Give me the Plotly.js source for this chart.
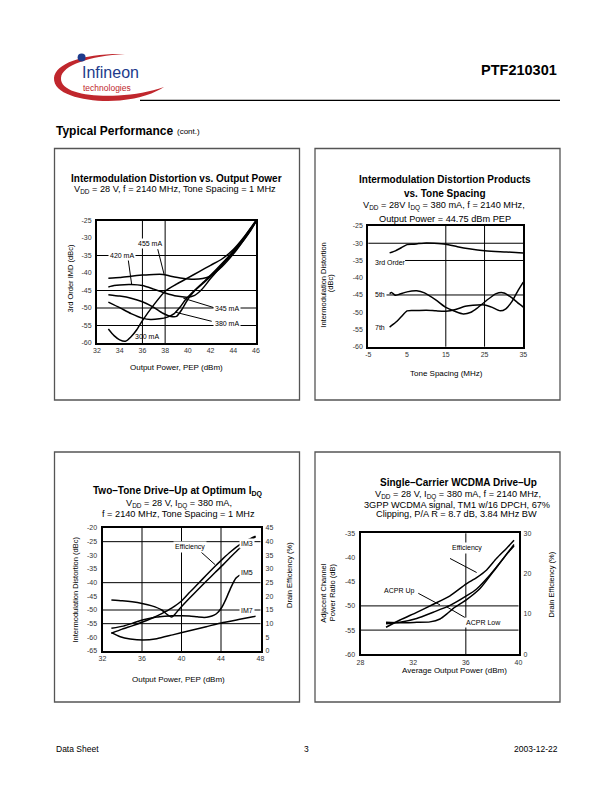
<!DOCTYPE html>
<html><head><meta charset="utf-8">
<script src="https://cdn.plot.ly/plotly-3.0.1.min.js"></script>
<style>html,body{margin:0;padding:0;background:#fff}</style>
</head><body><div id="chart" style="width:612px;height:792px"></div>
<script>
// ---------- Chart 1: IMD vs Output Power (x: dBm, y: dBc) ----------
const c1_300_x = [33, 33.5, 34, 34.5, 35, 35.5, 36, 37, 38, 39, 40, 41, 42, 43, 44, 45, 46];
const c1_300_y = [-56, -57.9, -59.1, -59.5, -58.2, -56.2, -53.6, -49.1, -45.2, -43.2, -41.4, -39.6, -37.8, -36, -33.3, -29.5, -25];
const c1_345_x = [33, 34, 35, 36, 36.7, 37.5, 38.2, 38.8, 39.3, 39.8, 40.5, 41.5, 42.5, 43.5, 44.5, 45.5, 46];
const c1_345_y = [-48.3, -49.9, -51.6, -52.9, -53.3, -53.1, -52.6, -51.6, -49.8, -47.6, -45.2, -42.2, -39, -35.6, -31.8, -27.4, -25.2];
const c1_380_x = [33, 34, 35, 36, 37, 37.8, 38.5, 39, 39.5, 40, 40.5, 41.5, 42.5, 43.5, 44.5, 45.5, 46];
const c1_380_y = [-46.2, -46.6, -47.2, -48.2, -49.8, -51.5, -52.4, -52.4, -50.3, -47.5, -45.4, -42.5, -39.4, -36, -32.3, -28, -25.3];
const c1_420_x = [33, 33.5, 34, 35, 36, 37, 38, 39, 40, 40.6, 41.2, 42, 43, 44, 45, 46];
const c1_420_y = [-44, -43.6, -43.4, -43.3, -43.6, -44.6, -45.7, -46.6, -46.9, -46.4, -44.8, -41.6, -37.8, -33.9, -29.9, -25.2];
const c1_455_x = [33, 34, 35, 36, 37, 37.8, 38.5, 39.5, 40.5, 41.3, 42, 43, 44, 45, 46];
const c1_455_y = [-41.5, -41.3, -40.9, -40.6, -40.4, -40.4, -40.9, -41.5, -41.8, -41.6, -40.8, -38.2, -34.6, -30.2, -25.3];
const c1_xticks = [32, 34, 36, 38, 40, 42, 44, 46];
const c1_yticks = [-60, -55, -50, -45, -40, -35, -30, -25];
const c1_labels = ['455 mA', '420 mA', '345 mA', '380 mA', '300 mA'];

// ---------- Chart 2: IMD products vs tone spacing ----------
const c2_3rd_x = [0.5, 2, 3.5, 5, 6.5, 8, 10, 12, 15, 18, 21, 25, 29, 32, 35];
const c2_3rd_y = [-32.8, -32.2, -31.3, -30.4, -30.3, -30.1, -29.9, -30, -30.3, -31, -31.6, -32.2, -32.5, -32.6, -32.8];
const c2_5th_x = [0.5, 1, 2, 3, 5, 7.5, 9.5, 12.5, 15, 17.5, 19.5, 21.5, 23, 25.5, 28, 30, 32, 33.5, 35];
const c2_5th_y = [-44.6, -44.3, -45.1, -44.8, -44.1, -43.8, -44.4, -46.5, -48.6, -49.8, -50.5, -50, -48.9, -46.6, -44.6, -44.4, -45.8, -47.2, -48.5];
const c2_7th_x = [0.5, 2, 3.5, 5, 7, 10, 12.5, 15, 17.5, 20, 22, 25, 27, 29, 30.5, 32, 33.5, 35];
const c2_7th_y = [-54.3, -53, -51.3, -49.6, -49.5, -49.4, -49.6, -49.7, -49.2, -48.3, -48, -47.9, -48.6, -49.6, -49, -47, -44, -41.3];
const c2_xticks = [-5, 5, 15, 25, 35];
const c2_yticks = [-60, -55, -50, -45, -40, -35, -30, -25];
const c2_labels = ['3rd Order', '5th', '7th'];

// ---------- Chart 3: Two-tone drive-up ----------
const c3_im3_x = [32.9, 34, 35, 36, 37, 38, 38.6, 39, 39.3, 39.7, 40.2, 40.8, 41.7, 42.5, 43.4, 44.2, 45, 45.9, 46.7, 47.5];
const c3_im3_y = [-46.3, -46.6, -47, -47.6, -48.5, -50, -51.8, -52.6, -51.7, -50, -48, -45.7, -42.4, -39.5, -36.3, -33.5, -30.5, -27.4, -25.2, -23.2];
const c3_im5_x = [32.9, 34.1, 35, 35.8, 36.6, 37.5, 38.3, 39, 40, 40.8, 41.6, 42.3, 42.8, 43.3, 43.7, 44.1, 44.5, 45, 45.5, 45.9];
const c3_im5_y = [-56.7, -55.9, -54.9, -53.9, -53.2, -52.6, -52.3, -52.1, -52.1, -52.2, -52.5, -52.7, -52.5, -51.9, -50.8, -48.9, -46, -41.8, -38.4, -37.2];
const c3_im7_x = [32.9, 33.8, 34.8, 36.1, 37.5, 39.1, 40.8, 42.5, 44.2, 45.9, 47.5];
const c3_im7_y = [-58.3, -59.8, -60.6, -61, -60.5, -59.1, -57.6, -56.1, -54.6, -53.4, -52.3];
const c3_eff_x = [32.9, 34, 35, 36, 37, 38, 39, 40, 40.8, 41.7, 42.5, 43.4, 44.2, 45, 45.9, 46.7, 47.5];
const c3_eff_y = [6.5, 8, 9.2, 10.5, 12, 13.7, 15.7, 18.3, 21.4, 24.7, 27.7, 31, 33.8, 36.4, 38.9, 40.6, 42];
const c3_xticks = [32, 36, 40, 44, 48];
const c3_yticks = [-65, -60, -55, -50, -45, -40, -35, -30, -25, -20];
const c3_y2ticks = [0, 5, 10, 15, 20, 25, 30, 35, 40, 45];
const c3_labels = ['Efficiency', 'IM3', 'IM5', 'IM7'];

// ---------- Chart 4: Single-carrier WCDMA drive-up ----------
const c4_up_x = [29.94, 31, 32.27, 33.53, 34.8, 36.01, 36.82, 37.83, 38.85, 39.66];
const c4_up_y = [-53.7, -53.4, -52.6, -51.3, -49.9, -48, -46.5, -43.6, -40.2, -37.3];
const c4_low_x = [29.94, 31, 32.27, 33.28, 34.04, 34.54, 35.05, 36.01, 37.08, 38.09, 39.1, 39.66];
const c4_low_y = [-53.4, -53.5, -53.4, -53.3, -52.7, -51.7, -50.5, -48.8, -46.4, -42.9, -39.3, -37.6];
const c4_eff_x = [29.94, 31, 32.27, 33.53, 34.8, 36.01, 36.82, 37.58, 38.34, 39.1, 39.66];
const c4_eff_y = [6.7, 8.5, 10.4, 12.4, 14.5, 17.4, 19.0, 20.9, 23.8, 26.3, 28.3];
const c4_xticks = [28, 32, 36, 40];
const c4_yticks = [-60, -55, -50, -45, -40, -35];
const c4_y2ticks = [0, 10, 20, 30];
const c4_labels = ['Efficiency', 'ACPR Up', 'ACPR Low'];

// ---------- layout helpers ----------
const W = 612, H = 792;
const FONT = 'Liberation Sans, Arial, Helvetica, sans-serif';
const px = v => v / W, py = v => 1 - v / H;
const TICKF = {family: FONT, size: 7, color: '#333'};

function xAx(l, r, range, ticks, anchor) {
  return {domain: [px(l), px(r)], range: range, anchor: anchor, tickvals: ticks, ticktext: ticks.map(String),
    showline: true, mirror: true, linewidth: 2, linecolor: '#000', showgrid: false, zeroline: false,
    ticks: '', tickfont: TICKF, fixedrange: true};
}
function yAx(t, b, range, ticks, anchor) {
  return {domain: [py(b), py(t)], range: range, anchor: anchor, tickvals: ticks, ticktext: ticks.map(String),
    showline: true, mirror: true, linewidth: 2, linecolor: '#000', showgrid: false, zeroline: false,
    ticks: '', tickfont: TICKF, fixedrange: true, ticklabelstandoff: 2};
}
function y2Ax(over, anchor, range, ticks) {
  return {overlaying: over, anchor: anchor, side: 'right', range: range, tickvals: ticks, ticktext: ticks.map(String),
    showline: false, showgrid: false, zeroline: false, ticks: '', tickfont: TICKF, fixedrange: true, ticklabelstandoff: 4};
}
const LINE = {color: '#000', width: 1.5, shape: 'spline', smoothing: 0.6};
function tr(x, y, xa, ya) { return {type: 'scatter', mode: 'lines', x: x, y: y, xaxis: xa, yaxis: ya, line: LINE, hoverinfo: 'skip'}; }

const data = [
  tr(c1_300_x, c1_300_y, 'x', 'y'), tr(c1_345_x, c1_345_y, 'x', 'y'), tr(c1_380_x, c1_380_y, 'x', 'y'),
  tr(c1_420_x, c1_420_y, 'x', 'y'), tr(c1_455_x, c1_455_y, 'x', 'y'),
  tr(c2_3rd_x, c2_3rd_y, 'x2', 'y2'), tr(c2_5th_x, c2_5th_y, 'x2', 'y2'), tr(c2_7th_x, c2_7th_y, 'x2', 'y2'),
  tr(c3_im3_x, c3_im3_y, 'x3', 'y3'), tr(c3_im5_x, c3_im5_y, 'x3', 'y3'), tr(c3_im7_x, c3_im7_y, 'x3', 'y3'),
  tr(c3_eff_x, c3_eff_y, 'x3', 'y5'),
  tr(c4_up_x, c4_up_y, 'x4', 'y4'), tr(c4_low_x, c4_low_y, 'x4', 'y4'), tr(c4_eff_x, c4_eff_y, 'x4', 'y6')
];

// ---------- shapes ----------
const shapes = [];
function vgrid(xa, ya, v) { shapes.push({type: 'line', xref: xa, yref: ya + ' domain', x0: v, x1: v, y0: 0, y1: 1, line: {color: '#000', width: 1}, layer: 'below'}); }
function hgrid(xa, ya, v) { shapes.push({type: 'line', xref: xa + ' domain', yref: ya, x0: 0, x1: 1, y0: v, y1: v, line: {color: '#000', width: 1}, layer: 'below'}); }
function hseg(xa, ya, v, a, b) { shapes.push({type: 'line', xref: xa, yref: ya, x0: a, x1: b, y0: v, y1: v, line: {color: '#000', width: 1}, layer: 'below'}); }
function lead(xa, ya, x0, y0, x1, y1) { shapes.push({type: 'line', xref: xa, yref: ya, x0: x0, y0: y0, x1: x1, y1: y1, line: {color: '#000', width: 1}}); }
function box(l, t, r, b) { shapes.push({type: 'rect', xref: 'paper', yref: 'paper', x0: px(l), x1: px(r), y0: py(b), y1: py(t), line: {color: '#555', width: 1.3}, layer: 'below'}); }

[36, 38].forEach(v => vgrid('x', 'y', v));
[-35, -45, -50, -55].forEach(v => hgrid('x', 'y', v));
[15, 25].forEach(v => vgrid('x2', 'y2', v));
hgrid('x2', 'y2', -30);
hseg('x2', 'y2', -35, 4.5, 35);
hseg('x2', 'y2', -45, -0.3, 35);
[36, 40, 44].forEach(v => vgrid('x3', 'y3', v));
[-25, -40, -50, -55].forEach(v => hgrid('x3', 'y3', v));
vgrid('x4', 'y4', 36);
[-50, -55].forEach(v => hgrid('x4', 'y4', v));

lead('x', 'y', 37.35, -33.2, 37.9, -40.3);
lead('x', 'y', 34.75, -36.2, 35.05, -43.2);
lead('x', 'y', 39.6, -47.2, 42.3, -49.9);
lead('x', 'y', 38.9, -51.2, 42.1, -53.8);
lead('x3', 'y3', 41.8, -28.2, 43.4, -33.4);
lead('x4', 'y4', 34.8, -40.2, 36.82, -43.1);
lead('x4', 'y4', 32.39, -47.4, 34.04, -49.8);
lead('x4', 'y4', 36.06, -52.6, 34.55, -50.2);

box(54.5, 148.5, 299.5, 400);
box(315, 148.5, 560, 400);
box(54.5, 452, 299.5, 702);
box(315, 452, 560, 702);

// header rule
shapes.push({type: 'line', xref: 'paper', yref: 'paper', x0: px(140), x1: px(560), y0: py(100.3), y1: py(100.3), line: {color: '#000', width: 1.3}});
// logo swoosh
function P(pts) { return pts.map(p => typeof p === 'string' ? p : (px(p[0]).toFixed(5) + ',' + py(p[1]).toFixed(5))).join(' '); }
const swoosh = P(['M', [125, 54], 'C', [85, 53], [55, 63], [54, 78], 'C', [53, 96], [90, 103], [120, 100.5], 'C', [140, 98.5], [155, 93], [164, 87],
  'C', [150, 92], [135, 94.5], [118, 95.5], 'C', [88, 97], [60, 92], [61, 78], 'C', [62, 65], [90, 56], [125, 54], 'Z']);
shapes.push({type: 'path', xref: 'paper', yref: 'paper', path: swoosh, fillcolor: '#c0272d', line: {width: 0}});
shapes.push({type: 'circle', xref: 'paper', yref: 'paper', x0: px(77.6), x1: px(85.6), y0: py(61.5), y1: py(53.5), fillcolor: '#1d3b8c', line: {width: 0}});

// ---------- annotations ----------
const ann = [];
function T(text, x, y, o) {
  o = o || {};
  ann.push(Object.assign({text: text, xref: 'paper', yref: 'paper', x: px(x), y: py(y), showarrow: false,
    xanchor: 'center', yanchor: 'middle', font: {family: FONT, size: 9.2, color: '#000'}}, o));
}
function L(text, xa, ya, x, y, o) {
  o = o || {};
  ann.push(Object.assign({text: text, xref: xa, yref: ya, x: x, y: y, showarrow: false, xanchor: 'center', yanchor: 'middle',
    bgcolor: '#fff', borderpad: 1, font: {family: FONT, size: 7, color: '#000'}}, o));
}
const B = s => '<b>' + s + '</b>';
const TF = {family: FONT, size: 10, color: '#000'};
const AX = {family: FONT, size: 8, color: '#000'};
const AY = {family: FONT, size: 7.5, color: '#000'};

// header
T(B('PTF210301'), 559, 69.5, {xanchor: 'right', font: {family: FONT, size: 14.5, color: '#000'}});
T(B('Typical Performance'), 54, 131, {xanchor: 'left', font: {family: FONT, size: 12, color: '#000'}});
T('(cont.)', 174.5, 132, {xanchor: 'left', font: {family: FONT, size: 8, color: '#000'}});
T('Infineon', 79.5, 72.5, {xanchor: 'left', font: {family: FONT, size: 16, color: '#1d3b8c'}});
T('technologies', 80.5, 87.5, {xanchor: 'left', font: {family: FONT, size: 8.5, color: '#c0272d'}});

// chart 1
T(B('Intermodulation Distortion vs. Output Power'), 176, 178.3, {font: TF});
T('V<sub>DD</sub> = 28 V, f = 2140 MHz, Tone Spacing = 1 MHz', 175, 189);
T('3rd Order IMD (dBc)', 69.5, 279, {textangle: -90, font: AY});
T('Output Power, PEP (dBm)', 176.7, 367.7, {font: AX});
L(c1_labels[0], 'x', 'y', 36.64, -31.7);
L(c1_labels[1], 'x', 'y', 34.17, -35.1);
L(c1_labels[2], 'x', 'y', 43.49, -50.2);
L(c1_labels[3], 'x', 'y', 43.45, -54.3);
L(c1_labels[4], 'x', 'y', 36.37, -58.2, {bgcolor: 'rgba(0,0,0,0)'});

// chart 2
T(B('Intermodulation Distortion Products'), 445, 179, {font: TF});
T(B('vs. Tone Spacing'), 445, 193.3, {font: TF});
T('V<sub>DD</sub> = 28V I<sub>DQ</sub> = 380 mA, f = 2140 MHz,', 443.5, 206);
T('Output Power = 44.75 dBm PEP', 445, 219);
T('Intermodulation Distortion', 322.7, 285, {textangle: -90, font: AY});
T('(dBc)', 330.7, 283.5, {textangle: -90, font: AY});
T('Tone Spacing (MHz)', 446, 373.7, {font: AX});
L(c2_labels[0], 'x2', 'y2', -3.86, -35.6, {xanchor: 'left', bgcolor: 'rgba(0,0,0,0)'});
L(c2_labels[1], 'x2', 'y2', -3.86, -44.8, {xanchor: 'left', bgcolor: 'rgba(0,0,0,0)'});
L(c2_labels[2], 'x2', 'y2', -3.86, -54.5, {xanchor: 'left', bgcolor: 'rgba(0,0,0,0)'});

// chart 3
T(B('Two\u2013Tone Drive\u2013Up at Optimum I<sub>DQ</sub>'), 178.3, 491, {font: TF});
T('V<sub>DD</sub> = 28 V, I<sub>DQ</sub> = 380 mA,', 178.8, 504.3);
T('f = 2140 MHz, Tone Spacing = 1 MHz', 178.5, 514.3);
T('Intermodulation Distortion (dBc)', 75, 589.5, {textangle: -90, font: AY});
T('Drain Efficiency (%)', 289, 575, {textangle: -90, font: AY});
T('Output Power, PEP (dBm)', 178, 679.3, {font: AX});
L(c3_labels[0], 'x3', 'y3', 40.86, -27.1);
L(c3_labels[1], 'x3', 'y3', 46.66, -25.6);
L(c3_labels[2], 'x3', 'y3', 46.66, -36.2);
L(c3_labels[3], 'x3', 'y3', 46.66, -50);

// chart 4
T(B('Single\u2013Carrier WCDMA Drive\u2013Up'), 458.3, 482, {font: TF});
T('V<sub>DD</sub> = 28 V, I<sub>DQ</sub> = 380 mA, f = 2140 MHz,', 457.5, 495);
T('3GPP WCDMA signal, TM1 w/16 DPCH, 67%', 456.7, 505);
T('Clipping, P/A R = 8.7 dB, 3.84 MHz BW', 456.7, 514.3);
T('Adjacent Channel', 323.3, 592.5, {textangle: -90, font: AY});
T('Power Ratio (dB)', 332.7, 592.5, {textangle: -90, font: AY});
T('Drain Efficiency (%)', 550.5, 585, {textangle: -90, font: AY});
T('Average Output Power (dBm)', 454, 670.7, {font: AX});
L(c4_labels[0], 'x4', 'y4', 36.06, -38.0);
L(c4_labels[1], 'x4', 'y4', 30.95, -46.9);
L(c4_labels[2], 'x4', 'y4', 37.35, -53.4);

// footer
T('Data Sheet', 54, 748.5, {xanchor: 'left', font: {family: FONT, size: 8.5, color: '#000'}});
T('3', 306.4, 748.5, {font: {family: FONT, size: 8.5, color: '#000'}});
T('2003-12-22', 560, 748.5, {xanchor: 'right', font: {family: FONT, size: 8.5, color: '#000'}});

const layout = {
  width: W, height: H, margin: {l: 0, r: 0, t: 0, b: 0}, paper_bgcolor: '#fff', plot_bgcolor: 'rgba(0,0,0,0)',
  showlegend: false, font: {family: FONT, color: '#000'},
  xaxis: xAx(97, 256, [32, 46], c1_xticks, 'y'),
  yaxis: yAx(220.5, 343, [-60, -25], c1_yticks, 'x'),
  xaxis2: xAx(368.3, 523.3, [-5, 35], c2_xticks, 'y2'),
  yaxis2: yAx(226, 346.7, [-60, -25], c2_yticks, 'x2'),
  xaxis3: xAx(102.5, 260.5, [32, 48], c3_xticks, 'y3'),
  yaxis3: yAx(528, 651, [-65, -20], c3_yticks, 'x3'),
  xaxis4: xAx(360.5, 518.5, [28, 40], c4_xticks, 'y4'),
  yaxis4: yAx(533.3, 654.3, [-60, -35], c4_yticks, 'x4'),
  yaxis5: y2Ax('y3', 'x3', [0, 45], c3_y2ticks),
  yaxis6: y2Ax('y4', 'x4', [0, 30], c4_y2ticks),
  shapes: shapes, annotations: ann
};
Plotly.newPlot('chart', data, layout, {staticPlot: true, displayModeBar: false});
</script></body></html>
